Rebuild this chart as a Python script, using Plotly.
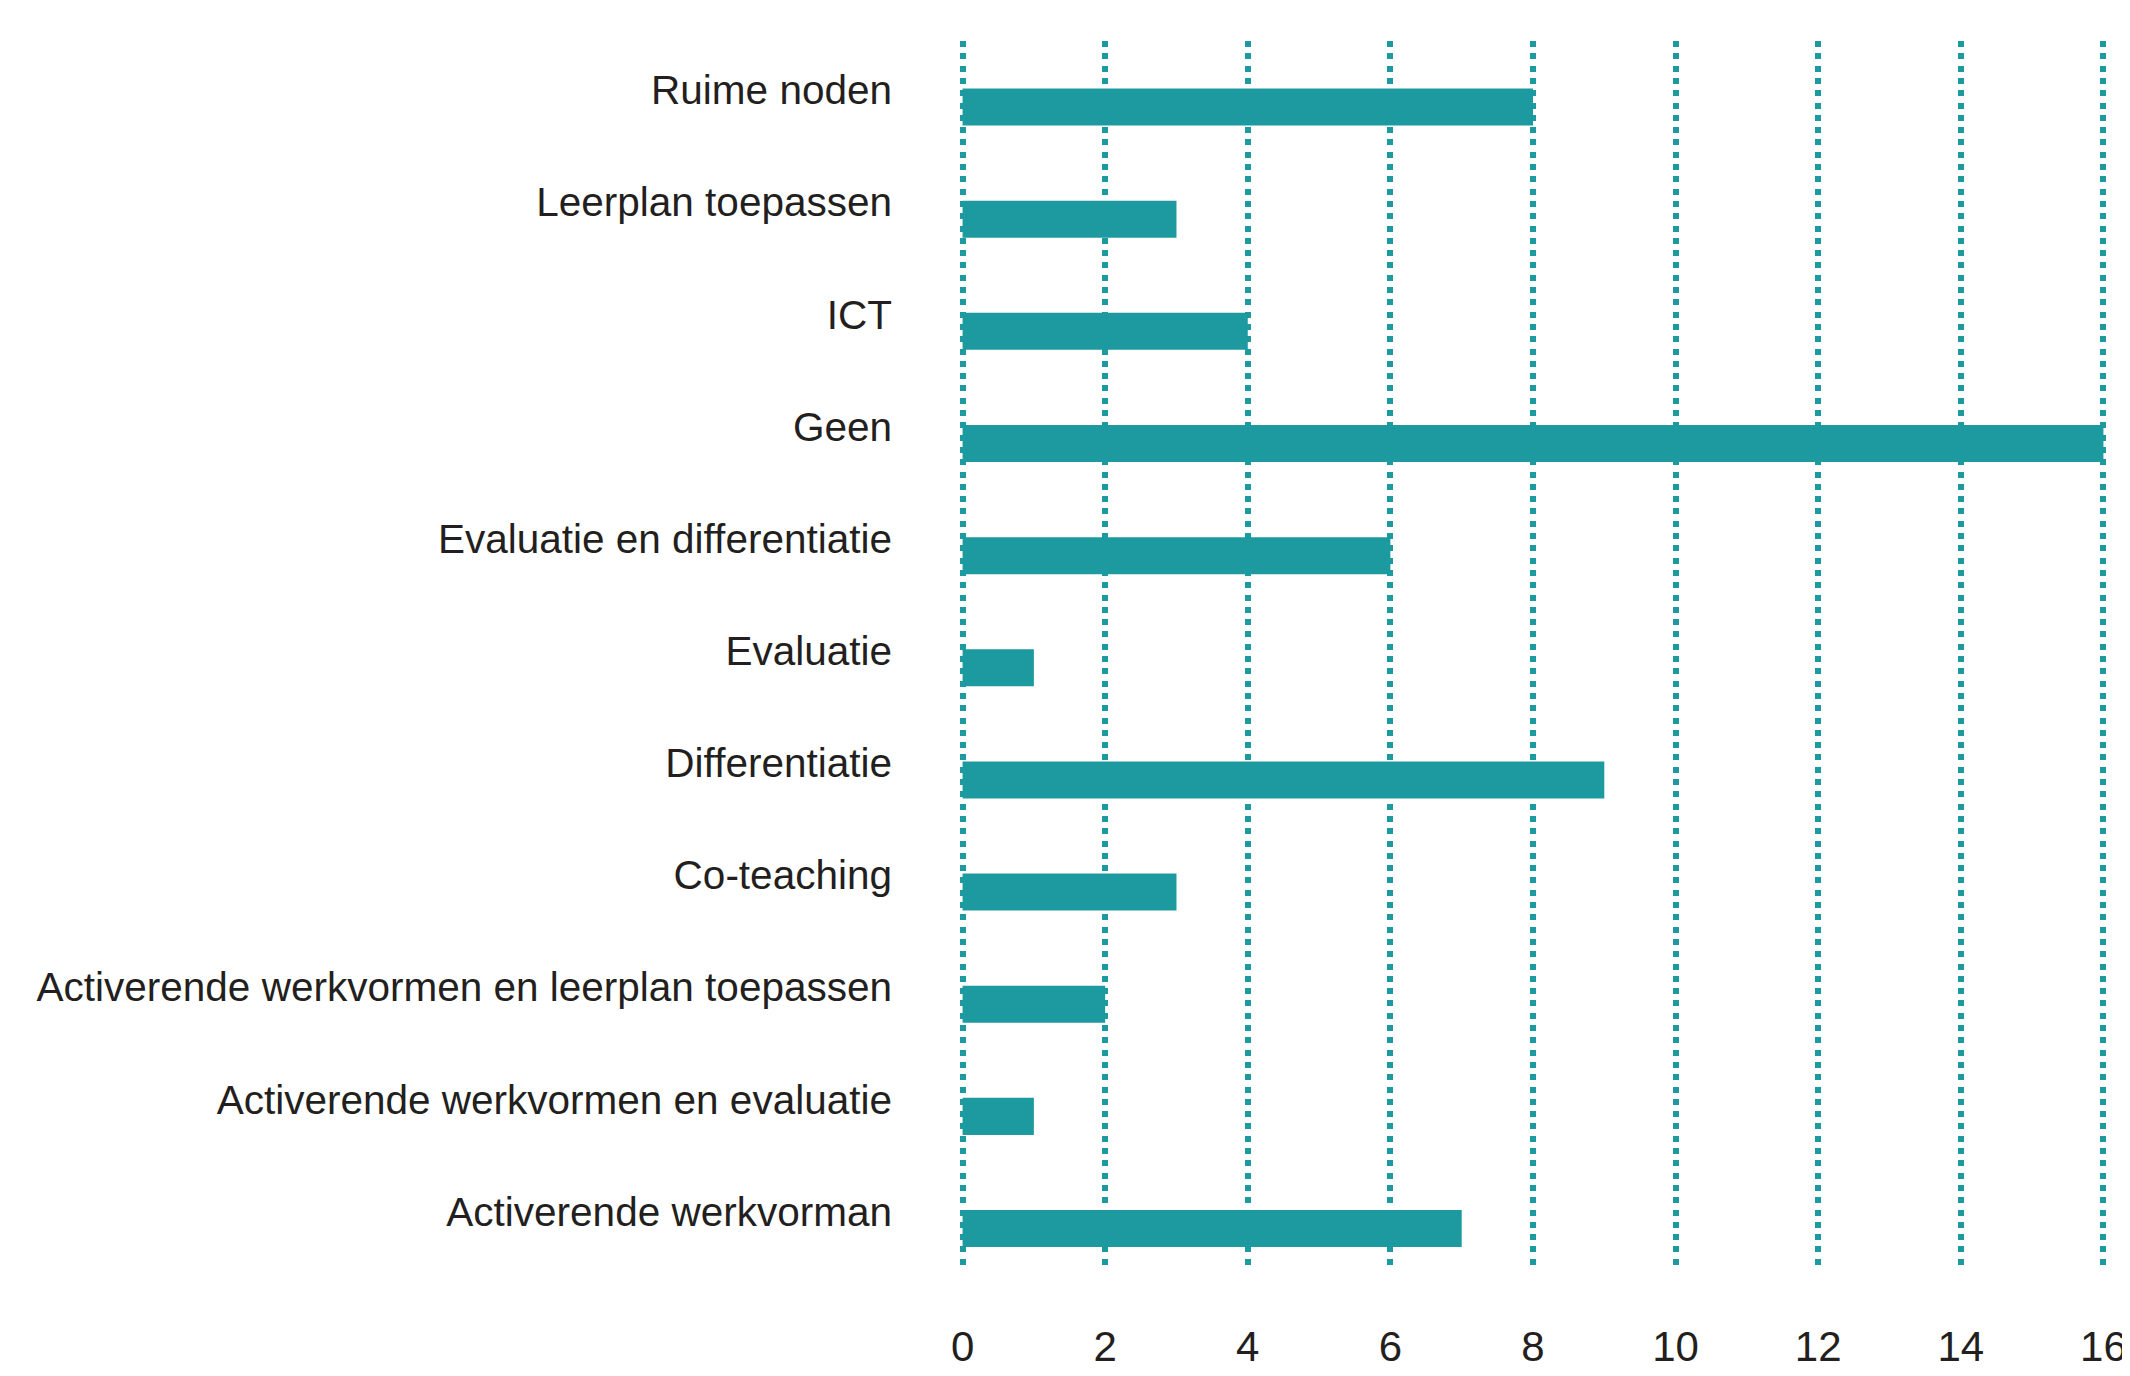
import plotly.graph_objects as go

# Categories listed top to bottom as in the reference
categories = [
    "Ruime noden",
    "Leerplan toepassen",
    "ICT",
    "Geen",
    "Evaluatie en differentiatie",
    "Evaluatie",
    "Differentiatie",
    "Co-teaching",
    "Activerende werkvormen en leerplan toepassen",
    "Activerende werkvormen en evaluatie",
    "Activerende werkvorman",
]
values = [8, 3, 4, 16, 6, 1, 9, 3, 2, 1, 7]
x_ticks = [0, 2, 4, 6, 8, 10, 12, 14, 16]

TEAL = "#1d9aa0"
TEXT = "#231f20"

fig = go.Figure()
fig.add_trace(go.Bar(
    x=values,
    y=categories,
    orientation="h",
    marker=dict(color=TEAL, line=dict(width=0)),
    hoverinfo="x+y",
))

bottom_to_top = list(reversed(categories))

# The page body adds an 8px offset, so the figure is 8px smaller than the window
fig.update_layout(
    width=2122,
    height=1368,
    margin=dict(l=951, r=23, t=33, b=108, autoexpand=False),
    paper_bgcolor="white",
    plot_bgcolor="white",
    bargap=0.67,
    showlegend=False,
    font=dict(family="Liberation Sans, Arial, sans-serif", color=TEXT),
)

fig.update_xaxes(
    range=[-0.05, 16.05],
    tickmode="array",
    tickvals=x_ticks,
    ticktext=[str(v) for v in x_ticks],
    showgrid=True,
    gridcolor=TEAL,
    gridwidth=6,
    griddash="6px,6.3px",
    zeroline=False,
    showline=False,
    ticks="",
    automargin=False,
    tickfont=dict(family="Liberation Sans Narrow, Liberation Sans, sans-serif", size=42, color=TEXT),
    ticklabelstandoff=50,
)

fig.update_yaxes(
    type="category",
    categoryorder="array",
    categoryarray=bottom_to_top,
    range=[-0.352, 10.589],
    showgrid=False,
    zeroline=False,
    showline=False,
    ticks="",
    automargin=False,
    tickfont=dict(family="Liberation Sans, Arial, sans-serif", size=40.5, color=TEXT),
    ticklabelstandoff=66,
    ticklabelshift=-17,
)

fig.write_html("out.html")
